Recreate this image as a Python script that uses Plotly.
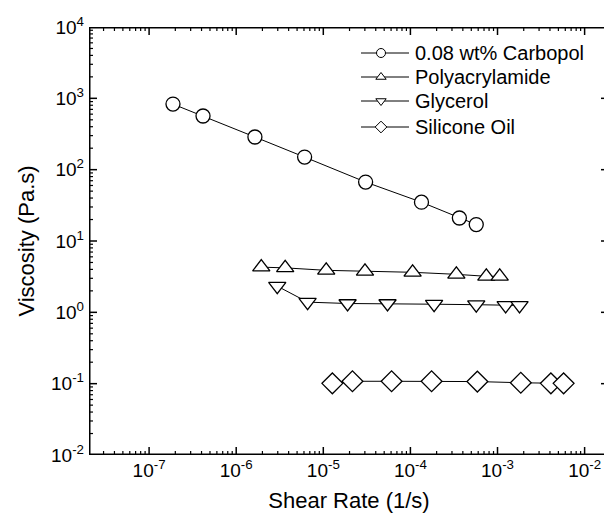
import plotly.graph_objects as go

# ---------------- data ----------------
# Carbopol (0.08 wt%)
carb_x = [1.88e-7, 4.16e-7, 1.64e-6, 6.1e-6, 3.06e-5, 1.34e-4, 3.65e-4, 5.7e-4]
carb_y = [830, 565, 287, 150, 67, 35, 21, 17]
# Polyacrylamide
paa_x = [1.94e-6, 3.65e-6, 1.08e-5, 3.01e-5, 1.06e-4, 3.37e-4, 7.44e-4, 1.06e-3]
paa_y = [4.3, 4.2, 3.88, 3.76, 3.64, 3.41, 3.2, 3.2]
# Glycerol
gly_x = [2.96e-6, 6.6e-6, 1.9e-5, 5.46e-5, 1.87e-4, 5.7e-4, 1.24e-3, 1.79e-3]
gly_y = [2.33, 1.39, 1.33, 1.33, 1.3, 1.28, 1.25, 1.25]
# Silicone oil
sil_x = [1.27e-5, 2.16e-5, 6.08e-5, 1.75e-4, 5.87e-4, 1.85e-3, 4.1e-3, 5.74e-3]
sil_y = [0.101, 0.108, 0.108, 0.108, 0.107, 0.103, 0.101, 0.101]

names = ["0.08 wt% Carbopol", "Polyacrylamide", "Glycerol", "Silicone Oil"]
symbols = ["circle", "triangle-up", "triangle-down", "diamond"]

x_tickvals = [1e-7, 1e-6, 1e-5, 1e-4, 1e-3, 1e-2]
x_ticktext = ["10<sup>-7</sup>", "10<sup>-6</sup>", "10<sup>-5</sup>",
              "10<sup>-4</sup>", "10<sup>-3</sup>", "10<sup>-2</sup>"]
y_tickvals = [1e-2, 1e-1, 1e0, 1e1, 1e2, 1e3, 1e4]
y_ticktext = ["10<sup>-2</sup>", "10<sup>-1</sup>", "10<sup>0</sup>", "10<sup>1</sup>",
              "10<sup>2</sup>", "10<sup>3</sup>", "10<sup>4</sup>"]

# ---------------- styling ----------------
FONT = "Liberation Sans, Arial, sans-serif"
sizes = [14, 15, 15, 16]
series = [(carb_x, carb_y), (paa_x, paa_y), (gly_x, gly_y), (sil_x, sil_y)]
X_RANGE = [-7.69, -1.72]
Y_RANGE = [-2, 4]
# page has an 8px body margin; figure sized so the plot area sits at 89..609 x 27..455
W, H = 604, 518
ML, MR, MT, MB = 81, 3, 19, 71
PX0, PX1, PY0, PY1 = 89, 609, 27, 455   # plot area in page pixels

x_minor = [m * 10.0 ** d for d in range(-8, -1) for m in range(2, 10)]
x_minor = [v for v in x_minor if 10 ** X_RANGE[0] < v < 10 ** X_RANGE[1]]
y_minor = [m * 10.0 ** d for d in range(-2, 4) for m in range(2, 10)]

fig = go.Figure()
for (xs, ys), nm, sym, sz in zip(series, names, symbols, sizes):
    fig.add_trace(go.Scatter(
        x=xs, y=ys, mode="lines+markers", name=nm, showlegend=False,
        line=dict(color="black", width=1),
        marker=dict(symbol=sym, size=sz, color="white",
                    line=dict(color="black", width=1.3)),
    ))

# ---- frame (overlay pixel-space axes) ----
fig.add_trace(go.Scatter(
    x=[PX0, PX1, PX1, PX0, PX0], y=[PY1, PY1, PY0, PY0, PY1],
    xaxis="x2", yaxis="y2", mode="lines", showlegend=False, hoverinfo="skip",
    line=dict(color="black", width=3)))

# ---- x ticks: data x on log axis, pixel y on overlay axis ----
def seg_x(vals, L):
    xs, ys = [], []
    for v in vals:
        xs += [v, v, None, v, v, None]
        ys += [PY1, PY1 - L, None, PY0, PY0 + L, None]
    return xs, ys

def seg_y(vals, L):
    xs, ys = [], []
    for v in vals:
        xs += [PX0, PX0 + L, None, PX1, PX1 - L, None]
        ys += [v, v, None, v, v, None]
    return xs, ys

for vals, L, wdt in [(x_tickvals, 8, 1.5), (x_minor, 4, 1.2)]:
    xs, ys = seg_x(vals, L)
    fig.add_trace(go.Scatter(x=xs, y=ys, xaxis="x", yaxis="y2", mode="lines",
                             showlegend=False, hoverinfo="skip",
                             line=dict(color="black", width=wdt)))
for vals, L, wdt in [(y_tickvals[1:-1], 8, 1.5), (y_minor, 4, 1.2)]:
    xs, ys = seg_y(vals, L)
    fig.add_trace(go.Scatter(x=xs, y=ys, xaxis="x2", yaxis="y", mode="lines",
                             showlegend=False, hoverinfo="skip",
                             line=dict(color="black", width=wdt)))

# ---- legend drawn on the overlay pixel-space axes ----
leg_rows = [53, 77, 101, 127]
leg_x0, leg_x1, leg_text_x = 361, 409, 413
for nm, sym, ry in zip(names, symbols, leg_rows):
    fig.add_trace(go.Scatter(
        x=[leg_x0, leg_x1], y=[ry, ry], xaxis="x2", yaxis="y2",
        mode="lines", showlegend=False, hoverinfo="skip",
        line=dict(color="black", width=1)))
    fig.add_trace(go.Scatter(
        x=[(leg_x0 + leg_x1) / 2 - 4], y=[ry], xaxis="x2", yaxis="y2",
        mode="markers", showlegend=False, hoverinfo="skip",
        marker=dict(symbol=sym, size=9, color="white",
                    line=dict(color="black", width=1))))
    fig.add_annotation(x=leg_text_x, y=ry, xref="x2", yref="y2", text=nm,
                       showarrow=False, xanchor="left", yanchor="middle",
                       font=dict(family=FONT, size=20, color="black"))

fig.update_layout(
    xaxis=dict(
        type="log", range=X_RANGE, showgrid=False, zeroline=False, showline=False,
        ticks="", tickmode="array", tickvals=x_tickvals, ticktext=x_ticktext,
        ticklabelstandoff=2,
        tickfont=dict(family=FONT, size=19, color="black"),
        title=dict(text="Shear Rate (1/s)", font=dict(family=FONT, size=22, color="black"),
                   standoff=12),
    ),
    yaxis=dict(
        type="log", range=Y_RANGE, showgrid=False, zeroline=False, showline=False,
        ticks="", tickmode="array", tickvals=y_tickvals, ticktext=y_ticktext,
        ticklabelstandoff=4,
        tickfont=dict(family=FONT, size=19, color="black"),
        title=dict(text="Viscosity (Pa.s)", font=dict(family=FONT, size=22, color="black"),
                   standoff=10),
    ),
    xaxis2=dict(overlaying="x", range=[PX0, PX1], visible=False, fixedrange=True),
    yaxis2=dict(overlaying="y", range=[PY1, PY0], visible=False, fixedrange=True),
    width=W, height=H,
    margin=dict(l=ML, r=MR, t=MT, b=MB),
    plot_bgcolor="white", paper_bgcolor="white",
    font=dict(family=FONT, color="black"),
    showlegend=False,
)

fig.write_html("out.html", config={"displayModeBar": False})
